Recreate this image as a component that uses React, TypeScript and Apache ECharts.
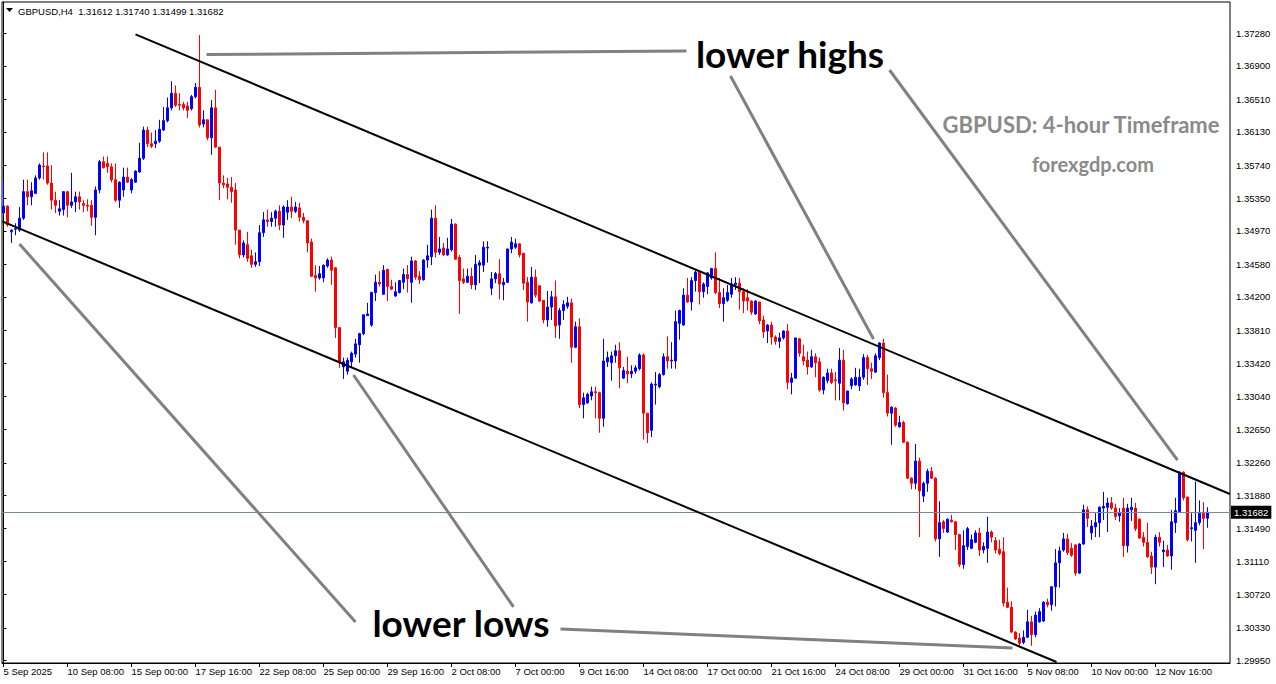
import React, { useEffect, useRef } from "react";
import * as echarts from "echarts";

// ---- tick labels ----
const timeLabels = [
  "5 Sep 2025", "10 Sep 08:00", "15 Sep 00:00", "17 Sep 16:00", "22 Sep 08:00",
  "25 Sep 00:00", "29 Sep 16:00", "2 Oct 08:00", "7 Oct 00:00", "9 Oct 16:00",
  "14 Oct 08:00", "17 Oct 00:00", "21 Oct 16:00", "24 Oct 08:00", "29 Oct 00:00",
  "31 Oct 16:00", "5 Nov 08:00", "10 Nov 00:00", "12 Nov 16:00",
];
const barsPerLabel = 16;
const priceTicks = [
  1.2995, 1.3033, 1.3072, 1.3111, 1.3149, 1.3188, 1.3226, 1.3265, 1.3304, 1.3342,
  1.3381, 1.342, 1.3458, 1.3497, 1.3535, 1.3574, 1.3613, 1.3651, 1.369, 1.3728,
];

// ---- H4 candles: [open, high, low, close] ----
const candles: number[][] = [
  [1.3518, 1.3555, 1.3515, 1.3526], [1.3526, 1.3527, 1.3502, 1.3504], [1.3496, 1.3499, 1.3483, 1.3498],
  [1.3499, 1.3506, 1.3492, 1.35], [1.3498, 1.3525, 1.3496, 1.3512], [1.3512, 1.3557, 1.351, 1.3543],
  [1.3543, 1.3557, 1.3527, 1.3537], [1.3537, 1.3554, 1.3527, 1.3544], [1.3541, 1.3562, 1.354, 1.3559],
  [1.3559, 1.3576, 1.3557, 1.3574], [1.3573, 1.3589, 1.3557, 1.3572], [1.3573, 1.3589, 1.3551, 1.3553],
  [1.3553, 1.3574, 1.3522, 1.3533], [1.3533, 1.3543, 1.3518, 1.3527], [1.352, 1.3533, 1.3515, 1.3523],
  [1.3522, 1.3543, 1.3515, 1.3543], [1.3543, 1.3543, 1.3513, 1.3527], [1.3527, 1.3565, 1.3524, 1.3531],
  [1.3531, 1.3543, 1.3519, 1.3537], [1.3537, 1.3543, 1.3522, 1.3531], [1.3529, 1.3533, 1.3519, 1.3527],
  [1.3527, 1.3534, 1.352, 1.3526], [1.3527, 1.3533, 1.3503, 1.3513], [1.3513, 1.3549, 1.3492, 1.3545],
  [1.3545, 1.358, 1.3541, 1.3578], [1.3578, 1.3584, 1.357, 1.3571], [1.3576, 1.3584, 1.3565, 1.3572],
  [1.3572, 1.3576, 1.3554, 1.3557], [1.3557, 1.3576, 1.3531, 1.3533], [1.3533, 1.3555, 1.3524, 1.3554],
  [1.3545, 1.3571, 1.3537, 1.356], [1.356, 1.3571, 1.3553, 1.3554], [1.3545, 1.3559, 1.3541, 1.3557],
  [1.3554, 1.3568, 1.3553, 1.3567], [1.3566, 1.36, 1.3565, 1.3582], [1.3582, 1.3619, 1.358, 1.3615],
  [1.3615, 1.3619, 1.3595, 1.3599], [1.3599, 1.3612, 1.3594, 1.3596], [1.3599, 1.3615, 1.3594, 1.3602],
  [1.3602, 1.3627, 1.36, 1.3616], [1.3615, 1.3642, 1.3614, 1.3626], [1.3626, 1.3653, 1.3624, 1.3641],
  [1.3641, 1.3672, 1.3638, 1.3658], [1.3658, 1.3667, 1.3642, 1.3644], [1.3645, 1.3658, 1.3638, 1.3644],
  [1.3645, 1.3648, 1.3638, 1.3641], [1.3643, 1.3648, 1.3629, 1.3638], [1.364, 1.3656, 1.3638, 1.3654],
  [1.3654, 1.367, 1.3652, 1.3665], [1.3665, 1.3726, 1.3618, 1.3621], [1.3622, 1.3638, 1.3618, 1.3627],
  [1.3627, 1.3627, 1.3603, 1.3606], [1.3606, 1.365, 1.3586, 1.3641], [1.3641, 1.3662, 1.3594, 1.3595],
  [1.3595, 1.3595, 1.3533, 1.3553], [1.3553, 1.3562, 1.3547, 1.3551], [1.3552, 1.3559, 1.3534, 1.3548],
  [1.3548, 1.356, 1.353, 1.3543], [1.3545, 1.3553, 1.3481, 1.3498], [1.3498, 1.3498, 1.3465, 1.3469],
  [1.3469, 1.3486, 1.3466, 1.3483], [1.3481, 1.3496, 1.3461, 1.3465], [1.3468, 1.3475, 1.3454, 1.3458],
  [1.3458, 1.3472, 1.3455, 1.3461], [1.3461, 1.3504, 1.3456, 1.3495], [1.3495, 1.3519, 1.349, 1.351],
  [1.351, 1.3522, 1.3502, 1.3508], [1.3508, 1.3519, 1.3502, 1.3512], [1.3512, 1.3522, 1.3502, 1.352],
  [1.352, 1.3527, 1.3498, 1.3504], [1.3504, 1.3527, 1.3489, 1.3525], [1.3519, 1.3533, 1.351, 1.3525],
  [1.3525, 1.3537, 1.3512, 1.352], [1.352, 1.3531, 1.3518, 1.3525], [1.3524, 1.353, 1.3508, 1.3513],
  [1.3513, 1.3518, 1.3506, 1.3509], [1.3509, 1.3509, 1.3472, 1.3483], [1.3484, 1.3488, 1.3443, 1.3444],
  [1.3445, 1.3457, 1.3426, 1.3442], [1.3442, 1.3456, 1.344, 1.3447], [1.3442, 1.3458, 1.3437, 1.3457],
  [1.3456, 1.3465, 1.3454, 1.3463], [1.3463, 1.3467, 1.3434, 1.3451], [1.3454, 1.3455, 1.3372, 1.3384],
  [1.3384, 1.3384, 1.3337, 1.3343], [1.3338, 1.3349, 1.3324, 1.3344], [1.3333, 1.3349, 1.3329, 1.3346],
  [1.3344, 1.3356, 1.3338, 1.3354], [1.3353, 1.3371, 1.3349, 1.3365], [1.3364, 1.3378, 1.3343, 1.3377],
  [1.3377, 1.3399, 1.3375, 1.3399], [1.3398, 1.3413, 1.3398, 1.34], [1.3387, 1.3426, 1.3385, 1.3425],
  [1.3425, 1.3446, 1.3415, 1.3437], [1.3437, 1.345, 1.3432, 1.3435], [1.3423, 1.3457, 1.3422, 1.3451],
  [1.3452, 1.3453, 1.3415, 1.3432], [1.3432, 1.344, 1.3428, 1.3429], [1.3421, 1.3437, 1.342, 1.3426],
  [1.3425, 1.3439, 1.3424, 1.3439], [1.3437, 1.3453, 1.3429, 1.3446], [1.3446, 1.3457, 1.3425, 1.3441],
  [1.3437, 1.3467, 1.3413, 1.3462], [1.3462, 1.3463, 1.344, 1.3443], [1.3444, 1.345, 1.3435, 1.344],
  [1.344, 1.3464, 1.3439, 1.3463], [1.3463, 1.3481, 1.3454, 1.3468], [1.3467, 1.3522, 1.3457, 1.3512],
  [1.3512, 1.3527, 1.3466, 1.3472], [1.3472, 1.349, 1.3469, 1.3476], [1.3477, 1.3483, 1.3468, 1.3469],
  [1.3469, 1.3489, 1.3468, 1.3476], [1.3475, 1.3511, 1.3473, 1.3505], [1.3505, 1.3506, 1.3463, 1.3464],
  [1.3466, 1.3469, 1.34, 1.3439], [1.3441, 1.3453, 1.3435, 1.3437], [1.3437, 1.3453, 1.3436, 1.3444],
  [1.3444, 1.3454, 1.3429, 1.3434], [1.3434, 1.3469, 1.3428, 1.3458], [1.3457, 1.3463, 1.3436, 1.346],
  [1.3457, 1.3485, 1.3449, 1.3478], [1.3477, 1.3485, 1.346, 1.3478], [1.343, 1.3449, 1.3422, 1.3441],
  [1.3441, 1.3449, 1.3436, 1.3447], [1.3447, 1.3464, 1.3417, 1.3435], [1.3434, 1.3442, 1.3416, 1.3437],
  [1.3437, 1.3476, 1.3436, 1.3476], [1.3476, 1.349, 1.3471, 1.3484], [1.3478, 1.3488, 1.3476, 1.3482],
  [1.3482, 1.3482, 1.3466, 1.3469], [1.3471, 1.3471, 1.3428, 1.3436], [1.3437, 1.3443, 1.3391, 1.3414],
  [1.3413, 1.3455, 1.3412, 1.3443], [1.3443, 1.3452, 1.3419, 1.3422], [1.3433, 1.3433, 1.3414, 1.3415],
  [1.3416, 1.3416, 1.3389, 1.3393], [1.3393, 1.3427, 1.3385, 1.3408], [1.3408, 1.3427, 1.3393, 1.342],
  [1.342, 1.3439, 1.3372, 1.3386], [1.3387, 1.3407, 1.3371, 1.3404], [1.3404, 1.3416, 1.3393, 1.3411],
  [1.3409, 1.342, 1.3406, 1.3413], [1.3413, 1.3418, 1.3343, 1.3361], [1.3361, 1.3391, 1.336, 1.3385],
  [1.3385, 1.3395, 1.329, 1.3294], [1.3294, 1.3308, 1.3278, 1.3302], [1.3296, 1.3308, 1.3295, 1.3306],
  [1.3304, 1.3315, 1.3299, 1.3309], [1.3309, 1.3315, 1.3278, 1.3308], [1.3308, 1.3309, 1.3261, 1.3278],
  [1.3278, 1.3371, 1.3268, 1.3345], [1.3344, 1.3356, 1.3338, 1.3349], [1.3343, 1.3356, 1.3322, 1.3351],
  [1.3351, 1.3364, 1.3343, 1.3357], [1.3357, 1.3367, 1.3313, 1.3337], [1.3325, 1.3338, 1.3324, 1.3334],
  [1.3333, 1.335, 1.3319, 1.333], [1.333, 1.334, 1.3325, 1.3333], [1.3333, 1.334, 1.333, 1.3337],
  [1.3336, 1.3354, 1.3334, 1.3352], [1.3352, 1.3354, 1.3253, 1.3284], [1.3284, 1.3284, 1.3249, 1.3261],
  [1.3264, 1.332, 1.3256, 1.3318], [1.3317, 1.3332, 1.3294, 1.3318], [1.3315, 1.3331, 1.3313, 1.3329],
  [1.3329, 1.3354, 1.3328, 1.335], [1.335, 1.3374, 1.3336, 1.3345], [1.3345, 1.3367, 1.3336, 1.3346],
  [1.3345, 1.3404, 1.3336, 1.3391], [1.3389, 1.3405, 1.337, 1.3404], [1.3387, 1.343, 1.3386, 1.3422],
  [1.3422, 1.3442, 1.3413, 1.3414], [1.3414, 1.3443, 1.3404, 1.3439], [1.3439, 1.3451, 1.3426, 1.3449],
  [1.3449, 1.345, 1.3411, 1.3426], [1.3426, 1.3437, 1.3419, 1.3435], [1.3432, 1.3449, 1.3423, 1.3448],
  [1.3442, 1.3454, 1.344, 1.3453], [1.3453, 1.3472, 1.3423, 1.3425], [1.3425, 1.3442, 1.3407, 1.3412],
  [1.3412, 1.343, 1.3391, 1.3419], [1.3416, 1.3434, 1.3414, 1.3425], [1.3423, 1.3442, 1.3419, 1.3435],
  [1.3434, 1.3443, 1.3428, 1.3436], [1.3436, 1.3442, 1.3405, 1.3426], [1.3426, 1.343, 1.3401, 1.3415],
  [1.3419, 1.3429, 1.3404, 1.3415], [1.3415, 1.3416, 1.3399, 1.3402], [1.34, 1.3416, 1.3399, 1.3415],
  [1.3414, 1.3414, 1.3388, 1.3392], [1.3393, 1.3398, 1.3372, 1.3379], [1.338, 1.3388, 1.3366, 1.3387],
  [1.3387, 1.3391, 1.3364, 1.3373], [1.3373, 1.3375, 1.3364, 1.3368], [1.3368, 1.3378, 1.336, 1.3372],
  [1.3372, 1.3381, 1.337, 1.338], [1.338, 1.3388, 1.3312, 1.332], [1.332, 1.3331, 1.3306, 1.3325],
  [1.3325, 1.3372, 1.3324, 1.3372], [1.3371, 1.3372, 1.335, 1.3354], [1.335, 1.3364, 1.334, 1.3345],
  [1.3346, 1.3356, 1.3329, 1.3338], [1.3338, 1.3358, 1.3337, 1.335], [1.335, 1.3354, 1.3326, 1.3343],
  [1.3344, 1.3349, 1.3309, 1.3311], [1.3311, 1.3327, 1.3306, 1.3326], [1.3322, 1.3336, 1.3319, 1.3331],
  [1.3331, 1.3336, 1.3318, 1.332], [1.3323, 1.3332, 1.3299, 1.3322], [1.3319, 1.336, 1.3299, 1.3346],
  [1.3346, 1.3358, 1.3287, 1.3296], [1.3295, 1.331, 1.3294, 1.331], [1.3316, 1.3326, 1.3312, 1.3324],
  [1.3317, 1.3337, 1.3316, 1.3326], [1.3316, 1.3336, 1.331, 1.3326], [1.3326, 1.3353, 1.3323, 1.3349],
  [1.3349, 1.3352, 1.3317, 1.3336], [1.3336, 1.3343, 1.3324, 1.3333], [1.3332, 1.3354, 1.3331, 1.3351],
  [1.3349, 1.3367, 1.3346, 1.3366], [1.3366, 1.3371, 1.3302, 1.3308], [1.3308, 1.3329, 1.328, 1.3284],
  [1.3284, 1.3292, 1.3247, 1.3291], [1.329, 1.3291, 1.3268, 1.327], [1.3268, 1.3281, 1.3267, 1.3273],
  [1.3273, 1.3275, 1.3249, 1.325], [1.325, 1.3251, 1.3207, 1.3208], [1.3208, 1.3209, 1.3195, 1.3202],
  [1.3202, 1.3248, 1.3195, 1.3228], [1.3228, 1.3232, 1.3139, 1.3193], [1.3187, 1.3204, 1.318, 1.3202],
  [1.3202, 1.3219, 1.3192, 1.3216], [1.3216, 1.3221, 1.3207, 1.3208], [1.3208, 1.3209, 1.3134, 1.3137],
  [1.3137, 1.3181, 1.3116, 1.3156], [1.3157, 1.3159, 1.3144, 1.3149], [1.3145, 1.3161, 1.3144, 1.316],
  [1.3159, 1.3165, 1.3156, 1.3157], [1.3157, 1.3158, 1.3124, 1.3142], [1.3142, 1.3143, 1.3104, 1.3107],
  [1.3107, 1.3147, 1.3102, 1.3129], [1.3128, 1.3151, 1.3124, 1.3149], [1.3126, 1.3142, 1.3125, 1.3136],
  [1.3133, 1.3147, 1.3132, 1.3144], [1.3144, 1.315, 1.3117, 1.3124], [1.3124, 1.3133, 1.312, 1.3128],
  [1.3126, 1.3163, 1.3109, 1.3145], [1.3145, 1.3147, 1.3133, 1.3139], [1.3135, 1.3139, 1.312, 1.3124],
  [1.3125, 1.3136, 1.3118, 1.312], [1.3122, 1.3139, 1.3058, 1.3062], [1.3063, 1.308, 1.3056, 1.3057],
  [1.3057, 1.3064, 1.3027, 1.3028], [1.3028, 1.3029, 1.3019, 1.302], [1.3021, 1.3027, 1.3011, 1.3015],
  [1.3016, 1.303, 1.3014, 1.3022], [1.3022, 1.3054, 1.3021, 1.304], [1.304, 1.3047, 1.3012, 1.3025],
  [1.3025, 1.3052, 1.3022, 1.3048], [1.304, 1.3056, 1.3039, 1.3052], [1.3041, 1.3064, 1.304, 1.3063],
  [1.3063, 1.3067, 1.3057, 1.306], [1.306, 1.3082, 1.3053, 1.3081], [1.3081, 1.3125, 1.3058, 1.3109],
  [1.3109, 1.3128, 1.308, 1.3123], [1.3124, 1.3144, 1.3122, 1.3137], [1.3137, 1.3143, 1.3118, 1.3121],
  [1.3126, 1.3132, 1.3116, 1.3118], [1.313, 1.3131, 1.3094, 1.3097], [1.3097, 1.3132, 1.3096, 1.3131],
  [1.3131, 1.3177, 1.313, 1.3171], [1.3171, 1.3175, 1.3151, 1.3161], [1.3144, 1.3159, 1.3136, 1.3152],
  [1.3151, 1.3167, 1.3139, 1.3156], [1.3156, 1.3175, 1.3139, 1.3174], [1.3173, 1.3192, 1.3159, 1.3175],
  [1.3174, 1.3185, 1.3145, 1.3179], [1.3179, 1.3186, 1.3171, 1.3173], [1.3173, 1.3178, 1.3159, 1.3163],
  [1.3164, 1.3173, 1.3157, 1.3167], [1.3173, 1.3185, 1.3116, 1.3129], [1.3129, 1.3178, 1.3121, 1.3173],
  [1.3171, 1.3185, 1.3158, 1.3174], [1.3173, 1.3179, 1.3146, 1.3149], [1.316, 1.3161, 1.3137, 1.3138],
  [1.3139, 1.3145, 1.3128, 1.3133], [1.3133, 1.3156, 1.3115, 1.3116], [1.3117, 1.3122, 1.3096, 1.3104],
  [1.3104, 1.3142, 1.3084, 1.3139], [1.3139, 1.3145, 1.3128, 1.3133], [1.3122, 1.3135, 1.3104, 1.3124],
  [1.3124, 1.313, 1.3116, 1.3117], [1.3117, 1.3171, 1.3101, 1.3157], [1.3156, 1.3185, 1.3144, 1.317],
  [1.3169, 1.3216, 1.3168, 1.3215], [1.3215, 1.3216, 1.3182, 1.3185], [1.3186, 1.3186, 1.3134, 1.3136],
  [1.3149, 1.3167, 1.3134, 1.315], [1.3147, 1.3204, 1.3109, 1.3156], [1.3156, 1.3182, 1.3153, 1.3167],
  [1.3167, 1.318, 1.3125, 1.3161], [1.31612, 1.3174, 1.31499, 1.31682],
];
const lastPrice = 1.31682;
const headerText = "GBPUSD,H4  1.31612 1.31740 1.31499 1.31682";

// ---- drawn trend lines, in [bar index, price] ----
const upperChannel = [[33, 1.37269], [306.6, 1.31895]];
const lowerChannel = [[-0.3, 1.35082], [263.25, 1.29931]];
const highPointers = [
  [[50.75, 1.37033], [170.75, 1.37074]],
  [[181.75, 1.36781], [217.5, 1.33707]],
  [[221.5, 1.36852], [293.5, 1.32292]],
];
const lowPointers = [
  [[4, 1.34817], [88, 1.30398]],
  [[87.5, 1.33286], [127.5, 1.30574]],
  [[139.25, 1.30316], [252.25, 1.30094]],
];

const AXIS_FONT = "Liberation Sans";
const NOTE_FONT = "Lato";

function seg(pts: number[][], color: string, width: number) {
  return [
    { coord: pts[0], lineStyle: { color, width, type: "solid" }, label: { show: false }, symbol: "none" },
    { coord: pts[1], symbol: "none" },
  ];
}

export default function App() {
  const ref = useRef<HTMLDivElement>(null);
  useEffect(() => {
    const chart = echarts.init(ref.current!, undefined, { renderer: "svg" });
    const tickIdx = timeLabels.map((_, k) => k * barsPerLabel);
    const option: any = {
      animation: false,
      backgroundColor: "#ffffff",
      grid: {
        left: 2, top: 2, width: 1228, height: 661,
        show: true, borderColor: "#000", borderWidth: 1, backgroundColor: "transparent",
      },
      xAxis: {
        type: "value", min: -0.375, max: 306.625,
        axisLine: { show: true, lineStyle: { color: "#000", width: 1 } },
        axisTick: { show: true, length: 4, customValues: tickIdx, lineStyle: { color: "#000" } },
        axisLabel: {
          show: true, customValues: tickIdx,
          formatter: (v: number) => timeLabels[Math.round(v / barsPerLabel)] ?? "",
          align: "left", margin: 3, color: "#000", fontFamily: AXIS_FONT, fontSize: 9.5,
        },
        splitLine: { show: false },
      },
      yAxis: {
        type: "value", position: "right", min: 1.29919, max: 1.37647,
        axisLine: { show: true, lineStyle: { color: "#000", width: 1 } },
        axisTick: { show: true, length: 3, customValues: priceTicks, lineStyle: { color: "#000" } },
        axisLabel: {
          show: true, customValues: priceTicks,
          formatter: (v: number) => v.toFixed(5),
          margin: 6, color: "#000", fontFamily: AXIS_FONT, fontSize: 9.5,
        },
        splitLine: { show: false },
      },
      series: [
        {
          type: "candlestick",
          data: candles.map(([o, h, l, c], i) => [i, o, c, l, h]),
          encode: { x: 0, y: [1, 2, 3, 4] },
          barWidth: 2,
          itemStyle: {
            color: "#0000ff", color0: "#ff0000",
            borderColor: "#0000ff", borderColor0: "#ff0000", borderColorDoji: "#0000ff",
            borderWidth: 1,
          },
          emphasis: { disabled: true },
          markLine: {
            silent: true,
            precision: 5,
            symbol: ["none", "none"],
            label: { show: false },
            emphasis: { disabled: true },
            data: [
              {
                yAxis: lastPrice,
                lineStyle: { color: "#778899", width: 1, type: "solid" },
                label: {
                  show: true, position: "end", formatter: lastPrice.toFixed(5),
                  backgroundColor: "#000", color: "#fff", padding: [2, 3, 1, 3], distance: 1,
                  fontFamily: AXIS_FONT, fontSize: 9.5,
                },
              },
              seg(upperChannel, "#000", 2),
              seg(lowerChannel, "#000", 2),
              ...highPointers.map((p) => seg(p, "#808080", 3)),
              ...lowPointers.map((p) => seg(p, "#808080", 3)),
            ],
          },
        },
      ],
      graphic: [
        { type: "polygon", shape: { points: [[6, 8], [13, 8], [9.5, 12]] }, style: { fill: "#000" } },
        {
          type: "text", x: 18, y: 11,
          style: { text: headerText, fill: "#000", fontSize: 9.5, fontFamily: AXIS_FONT, textVerticalAlign: "middle", verticalAlign: "middle" },
        },
        {
          type: "text", x: 790, y: 53, z: 100,
          style: { text: "lower highs", fill: "#000", fontSize: 37, fontWeight: "bold", fontFamily: NOTE_FONT, textAlign: "center", align: "center", textVerticalAlign: "middle", verticalAlign: "middle" },
        },
        {
          type: "text", x: 461, y: 622, z: 100,
          style: { text: "lower lows", fill: "#000", fontSize: 37, fontWeight: "bold", fontFamily: NOTE_FONT, textAlign: "center", align: "center", textVerticalAlign: "middle", verticalAlign: "middle" },
        },
        {
          type: "text", x: 1081, y: 124, z: 100,
          style: { text: "GBPUSD: 4-hour Timeframe", fill: "#8a8a8a", fontSize: 22, fontWeight: "bold", fontFamily: NOTE_FONT, textAlign: "center", align: "center", textVerticalAlign: "middle", verticalAlign: "middle" },
        },
        {
          type: "text", x: 1093, y: 164, z: 100,
          style: { text: "forexgdp.com", fill: "#8a8a8a", fontSize: 20, fontWeight: "bold", fontFamily: NOTE_FONT, textAlign: "center", align: "center", textVerticalAlign: "middle", verticalAlign: "middle" },
        },
      ],
    };
    chart.setOption(option);
    return () => chart.dispose();
  }, []);
  return (
    <div
      ref={ref}
      style={{ position: "fixed", left: 0, top: 0, width: 1276, height: 684, background: "#fff" }}
    />
  );
}
